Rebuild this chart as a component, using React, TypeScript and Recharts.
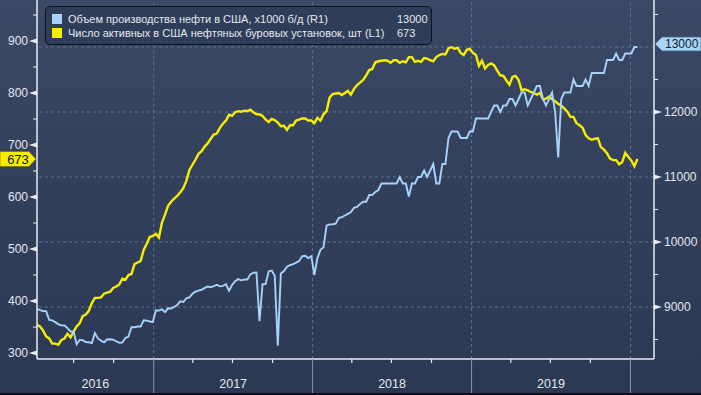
import { LineChart, Line, XAxis, YAxis, ReferenceLine } from "recharts";

// weekly observations, first one on 8 Apr 2016
const START = Date.UTC(2016, 3, 8);
const END = Date.UTC(2020, 1, 24);
const WEEK = 7 * 24 * 3600 * 1000;

// active US oil rigs, units (L1)
const rigs2016 = [354, 351, 343, 332, 328, 318, 318, 316, 325, 328, 337, 330, 341, 351, 357, 371, 374, 381, 396, 406, 406, 407, 414, 416, 418, 425, 428, 432, 443, 441, 450, 452, 471, 474, 477, 498, 510, 523, 525];
const rigs2017 = [529, 522, 551, 566, 583, 591, 597, 602, 609, 617, 631, 652, 662, 672, 683, 688, 697, 703, 712, 720, 722, 733, 741, 747, 758, 756, 763, 765, 764, 766, 765, 768, 763, 759, 759, 756, 749, 744, 750, 748, 743, 736, 737, 729, 738, 738, 747, 749, 751, 751, 747, 747];
const rigs2018 = [742, 752, 747, 759, 765, 791, 798, 799, 800, 796, 800, 804, 797, 808, 815, 820, 825, 834, 844, 846, 859, 861, 862, 863, 862, 858, 863, 863, 858, 861, 859, 869, 869, 860, 862, 860, 867, 866, 863, 861, 869, 873, 875, 874, 886, 888, 885, 887, 877, 873, 883, 885];
const rigs2019 = [877, 873, 852, 862, 847, 854, 857, 853, 843, 834, 833, 824, 816, 831, 833, 825, 805, 807, 805, 802, 800, 797, 800, 788, 789, 793, 788, 784, 779, 776, 770, 764, 754, 754, 742, 738, 733, 719, 713, 710, 712, 713, 696, 691, 684, 674, 671, 671, 663, 667, 685, 677];
const rigs2020 = [670, 659, 673];

// US crude output, thousand b/d (R1)
const prod2016 = [8972, 8953, 8938, 8937, 8802, 8794, 8767, 8734, 8720, 8716, 8676, 8622, 8622, 8428, 8494, 8491, 8460, 8457, 8446, 8599, 8517, 8482, 8457, 8501, 8504, 8497, 8473, 8450, 8454, 8522, 8544, 8690, 8689, 8699, 8699, 8796, 8791, 8777, 8770];
const prod2017 = [8946, 8945, 8964, 8920, 8980, 8978, 9000, 9032, 9088, 9077, 9134, 9147, 9203, 9235, 9252, 9265, 9293, 9314, 9305, 9320, 9342, 9318, 9325, 9350, 9250, 9338, 9397, 9429, 9410, 9423, 9423, 9502, 9528, 9530, 8781, 9350, 9353, 9547, 9561, 9480, 8406, 9515, 9553, 9620, 9645, 9658, 9682, 9707, 9780, 9789, 9754, 9782];
const prod2018 = [9492, 9752, 9879, 9919, 10251, 10271, 10273, 10283, 10369, 10381, 10407, 10433, 10460, 10525, 10540, 10586, 10619, 10620, 10723, 10725, 10769, 10800, 10900, 10900, 10900, 10900, 10900, 10900, 11000, 10900, 10900, 10700, 10900, 10900, 11000, 11000, 11100, 11000, 11100, 11200, 10900, 10900, 11200, 11200, 11600, 11700, 11700, 11700, 11600, 11600, 11600, 11700];
const prod2019 = [11700, 11900, 11900, 11900, 11900, 11900, 12000, 12100, 12100, 12000, 12100, 12100, 12200, 12200, 12100, 12200, 12300, 12300, 12100, 12200, 12300, 12400, 12400, 12200, 12100, 12200, 12300, 12000, 11300, 12200, 12300, 12300, 12300, 12500, 12400, 12400, 12400, 12500, 12400, 12600, 12600, 12600, 12600, 12600, 12800, 12800, 12800, 12900, 12800, 12800, 12900, 12900];
const prod2020 = [12900, 13000, 13000];

const leftTicks = [300, 350, 400, 450, 500, 550, 600, 650, 700, 750, 800, 850, 900, 950];
const rightTicks = [8500, 9000, 9500, 10000, 10500, 11000, 11500, 12000, 12500, 13000, 13500];
const gridValues = [9000, 10000, 11000, 12000, 13000];
const labelYears = [2016, 2017, 2018, 2019];
const boundaryYears = [2017, 2018, 2019, 2020];

const legendItems = [
  { name: "Объем производства нефти в США, x1000 б/д (R1)", color: "#a6d2fb", key: "prod" },
  { name: "Число активных в США нефтяных буровых установок, шт (L1)", color: "#f6ee00", key: "rigs" },
];

const rigs = [...rigs2016, ...rigs2017, ...rigs2018, ...rigs2019, ...rigs2020];
const prod = [...prod2016, ...prod2017, ...prod2018, ...prod2019, ...prod2020];
const data = rigs.map((r, i) => ({ t: START + i * WEEK, rigs: r, prod: prod[i] }));
const lastRigs = rigs[rigs.length - 1];
const lastProd = prod[prod.length - 1];

const yearStart = (y: number) => Date.UTC(y, 0, 1);
const quarterTicks: number[] = [];
for (let y = 2016; y <= 2020; y++) {
  for (let m = 0; m < 12; m += 3) {
    const t = Date.UTC(y, m, 1);
    if (t > START && t < END) quarterTicks.push(t);
  }
}
const yearLabelPos = new Map<number, number>();
labelYears.forEach((y) => {
  const a = Math.max(START, yearStart(y));
  const b = Math.min(END, yearStart(y + 1));
  yearLabelPos.set(Math.round((a + b) / 2), y);
});
const xTicks = [...quarterTicks, ...yearLabelPos.keys()];
const boundaries = new Set(boundaryYears.map(yearStart));

const FONT = "'Liberation Sans', Arial, sans-serif";
const TEXT = "#e4e8ee";
const AXIS = "#e8ebf0";
const GRID = "#5f7090";

function XTick(props: any) {
  const { x, y, payload } = props;
  const v = payload.value;
  const year = yearLabelPos.get(v);
  if (year !== undefined) {
    return (
      <text x={x} y={y + 29} textAnchor="middle" fill={TEXT} fontSize={12.5} fontFamily={FONT}>
        {year}
      </text>
    );
  }
  if (boundaries.has(v)) {
    return <line x1={x} x2={x} y1={y} y2={y + 36} stroke="#8a95a8" strokeWidth={1} />;
  }
  return <line x1={x} x2={x} y1={y} y2={y + 4} stroke={AXIS} strokeWidth={1.2} />;
}

function LeftTick(props: any) {
  const { x, y, payload } = props;
  const v = payload.value;
  if (v === lastRigs) {
    return (
      <g>
        <path d={`M0 ${y - 7.5} L29 ${y - 7.5} L${x - 1} ${y} L29 ${y + 7.5} L0 ${y + 7.5} Z`} fill="#f6ee00" stroke="#6b6500" strokeWidth={0.6} />
        <text x={18} y={y} dy="0.36em" textAnchor="middle" fill="#111" fontSize={13} fontFamily={FONT}>
          {v}
        </text>
      </g>
    );
  }
  if (v % 100 !== 0) {
    return <line x1={x - 4} x2={x} y1={y} y2={y} stroke={AXIS} strokeWidth={1} />;
  }
  return (
    <g>
      <path d={`M${x} ${y - 2.5} L${x - 8} ${y} L${x} ${y + 2.5} Z`} fill={AXIS} />
      <text x={x - 9} y={y} dy="0.36em" textAnchor="end" fill={TEXT} fontSize={12} fontFamily={FONT}>
        {v}
      </text>
    </g>
  );
}

function RightTick(props: any) {
  const { x, y, payload } = props;
  const v = payload.value;
  if (v === lastProd) {
    return (
      <g>
        <path d={`M${x + 1} ${y - 3} L${x + 8} ${y - 10} L701 ${y - 10} L701 ${y + 4} L${x + 8} ${y + 4} Z`} fill="#a9d4f6" stroke="#3d5f86" strokeWidth={0.8} />
        <text x={x + 11} y={y - 3} dy="0.36em" fill="#111a2a" fontSize={12} fontFamily={FONT}>
          {v}
        </text>
      </g>
    );
  }
  if (v % 1000 !== 0) {
    return <line x1={x} x2={x + 4} y1={y} y2={y} stroke={AXIS} strokeWidth={1} />;
  }
  return (
    <g>
      <path d={`M${x} ${y - 2.5} L${x + 8} ${y} L${x} ${y + 2.5} Z`} fill={AXIS} />
      <text x={x + 10} y={y} dy="0.36em" textAnchor="start" fill={TEXT} fontSize={12} fontFamily={FONT}>
        {v}
      </text>
    </g>
  );
}

export default function App() {
  return (
    <div
      style={{
        position: "absolute",
        left: 0,
        top: 0,
        width: 701,
        height: 395,
        background: "linear-gradient(#3c4966 0%, #33405c 45%, #2c3a55 90%, #2b3852 100%)",
        borderBottom: "2px solid #0b0f18",
        boxSizing: "border-box",
        overflow: "hidden",
      }}
    >
      <LineChart width={701} height={395} data={data} margin={{ top: 0, right: 0, bottom: 0, left: 0 }}>
        {gridValues.map((v) => (
          <ReferenceLine key={"h" + v} yAxisId="R" y={v} stroke={GRID} strokeDasharray="3 3" />
        ))}
        {boundaryYears.map((y) => (
          <ReferenceLine key={"v" + y} yAxisId="R" x={yearStart(y)} stroke={GRID} strokeDasharray="3 3" />
        ))}
        <XAxis
          dataKey="t"
          type="number"
          domain={[START, END]}
          allowDataOverflow
          ticks={xTicks}
          interval={0}
          height={36}
          tickSize={0}
          tickMargin={0}
          tickLine={false}
          axisLine={{ stroke: AXIS, strokeWidth: 1.5 }}
          tick={<XTick />}
        />
        <YAxis
          yAxisId="L"
          orientation="left"
          width={37}
          domain={[288.5, 978.8]}
          allowDataOverflow
          ticks={[...leftTicks, lastRigs]}
          interval={0}
          tickSize={0}
          tickMargin={0}
          tickLine={false}
          axisLine={{ stroke: AXIS, strokeWidth: 1.5 }}
          tick={<LeftTick />}
        />
        <YAxis
          yAxisId="R"
          orientation="right"
          width={47}
          domain={[8200, 13723]}
          allowDataOverflow
          ticks={rightTicks}
          interval={0}
          tickSize={0}
          tickMargin={0}
          tickLine={false}
          axisLine={{ stroke: AXIS, strokeWidth: 1.5 }}
          tick={<RightTick />}
        />
        <Line yAxisId="L" type="linear" dataKey="rigs" stroke="#f6ee00" strokeWidth={2.4} dot={false} isAnimationActive={false} />
        <Line yAxisId="R" type="linear" dataKey="prod" stroke="#a6d2fb" strokeWidth={1.9} dot={false} isAnimationActive={false} />
      </LineChart>
      <div
        style={{
          position: "absolute",
          left: 45,
          top: 6,
          width: 387,
          height: 39,
          boxSizing: "border-box",
          border: "1px solid #0c111c",
          borderRadius: 5,
          background: "#303d59",
          fontFamily: FONT,
          fontSize: 11,
          color: TEXT,
        }}
      >
        {legendItems.map((it, i) => (
          <div key={it.key} style={{ position: "absolute", left: 6, top: 6 + i * 14, height: 12, display: "flex", alignItems: "center", whiteSpace: "nowrap" }}>
            <span style={{ display: "inline-block", width: 10, height: 10, background: it.color, marginRight: 6 }} />
            <span>{it.name}</span>
          </div>
        ))}
        <div style={{ position: "absolute", left: 351, top: 6, lineHeight: "12px" }}>{lastProd}</div>
        <div style={{ position: "absolute", left: 351, top: 20, lineHeight: "12px" }}>{lastRigs}</div>
      </div>
    </div>
  );
}
